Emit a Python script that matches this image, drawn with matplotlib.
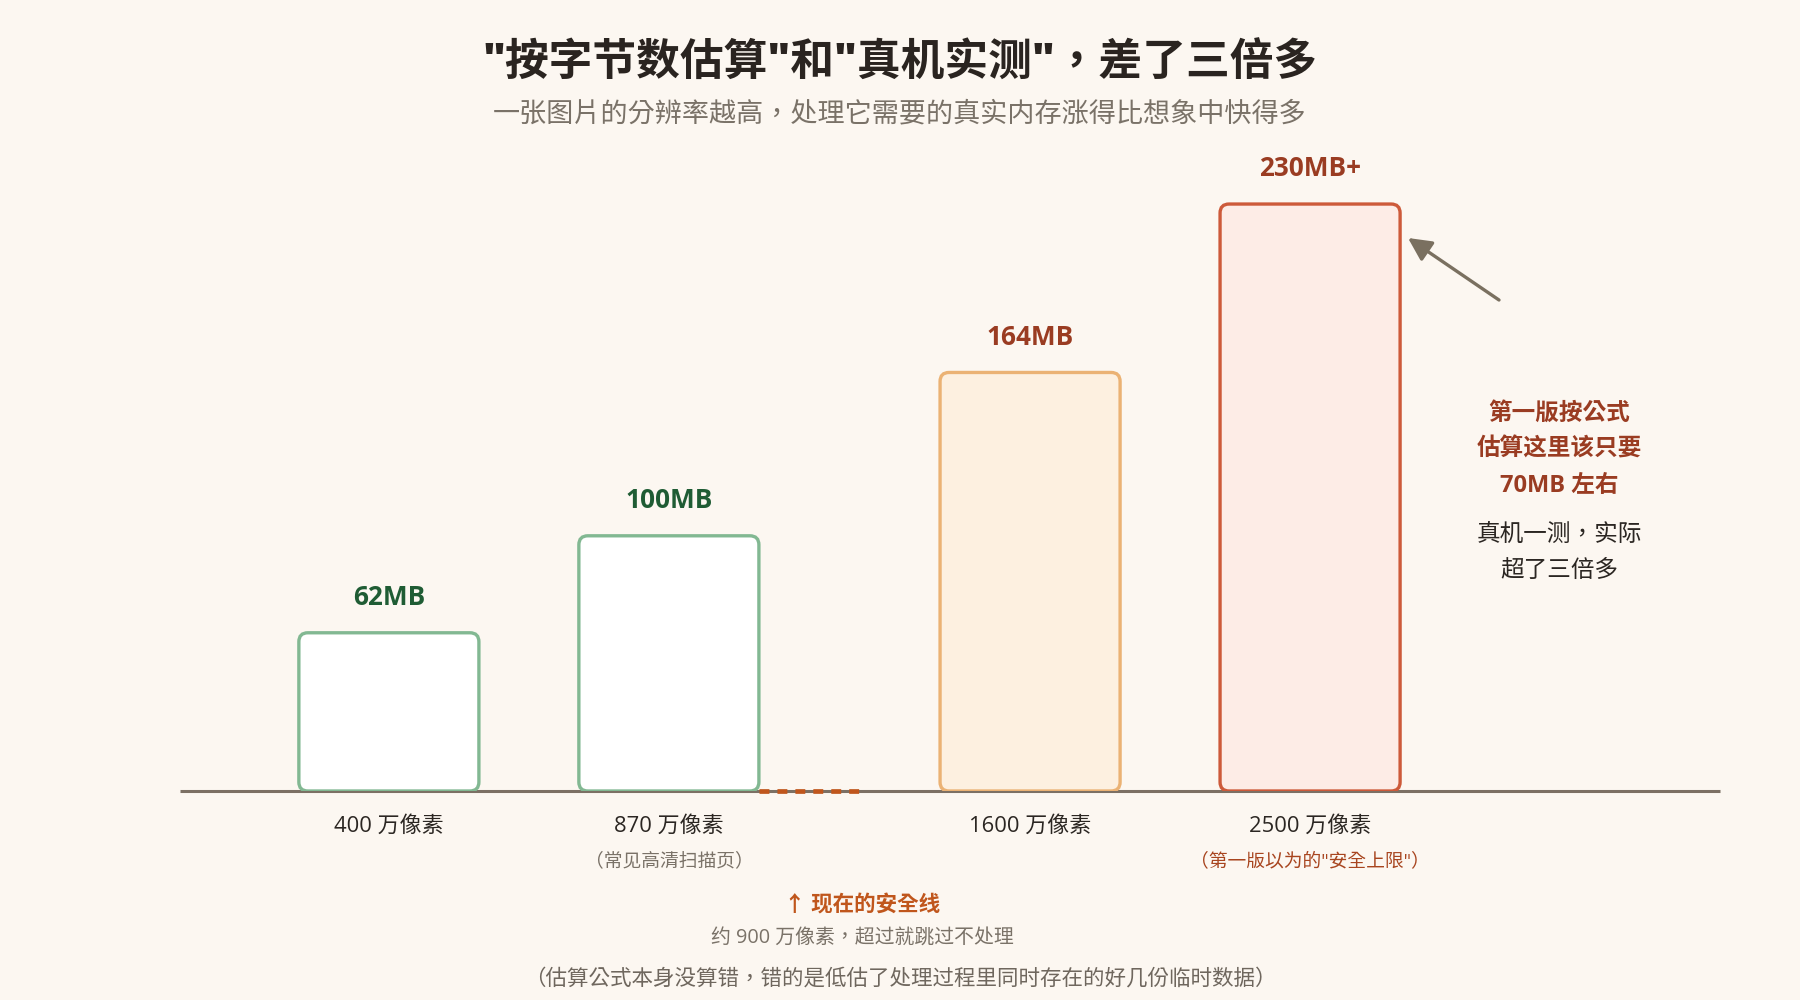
import matplotlib
matplotlib.use("Agg")
import matplotlib.pyplot as plt
from matplotlib.patches import FancyBboxPatch

plt.rcParams['font.family'] = ['Open Sans', 'Noto Sans CJK TC', 'DejaVu Sans']

# ---- data ----
categories = ['400 万像素', '870 万像素', '1600 万像素', '2500 万像素']
notes = ['', '（常见高清扫描页）', '', '（第一版以为的"安全上限"）']
memory_mb = [62, 100, 164, 230]
value_labels = ['62MB', '100MB', '164MB', '230MB+']
positions = [0, 1, 2.29, 3.29]
safety_pos = 1.69

title = '"按字节数估算"和"真机实测"，差了三倍多'
subtitle = '一张图片的分辨率越高，处理它需要的真实内存涨得比想象中快得多'
safety_title = '↑ 现在的安全线'
safety_note = '约 900 万像素，超过就跳过不处理'
footnote = '（估算公式本身没算错，错的是低估了处理过程里同时存在的好几份临时数据）'
anno_bold = ['第一版按公式', '估算这里该只要', '70MB 左右']
anno_normal = ['真机一测，实际', '超了三倍多']

# ---- styles ----
bg = '#fcf7f1'
edge_colors = ['#82b892', '#82b892', '#ebb274', '#cd5a3a']
face_colors = ['#ffffff', '#ffffff', '#fdf0e0', '#fdece6']
label_colors = ['#1f5c34', '#1f5c34', '#9a3c22', '#9a3c22']
note_colors = ['#7a7268', '#7a7268', '#7a7268', '#a8451f']

W, H = 1800, 1000
fig = plt.figure(figsize=(W / 100, H / 100), dpi=100, facecolor=bg)

def fy(px):
    return 1 - px / H

def fx(px):
    return px / W

base_px = 791
ax = fig.add_axes([fx(180), fy(base_px), fx(1720) - fx(180), (base_px - 153) / H])
ax.set_facecolor(bg)
ax.patch.set_alpha(0)
xmin, xmax = -0.746, 4.754
ymax = 250
ax.set_xlim(xmin, xmax)
ax.set_ylim(0, ymax)
ax.axis('off')

# baseline
ax.plot([xmin, xmax], [0, 0], color='#7c7064', lw=2.2, solid_capstyle='butt', zorder=1, clip_on=False)

bw = 0.643
px_per_x = (1720 - 180) / (xmax - xmin)
px_per_y = (base_px - 153) / ymax
r_px = 9
rx = r_px / px_per_x
aspect = (r_px / px_per_y) / rx

for p, v, lab, ec, fc, lc in zip(positions, memory_mb, value_labels, edge_colors, face_colors, label_colors):
    patch = FancyBboxPatch((p - bw / 2, 0), bw, v,
                           boxstyle=f"round,pad=0,rounding_size={rx}",
                           mutation_aspect=aspect,
                           facecolor=fc, edgecolor=ec, lw=2.4, zorder=3)
    ax.add_patch(patch)
    ax.annotate(lab, (p, v), xytext=(0, 25.5), textcoords='offset points',
                ha='center', va='center', fontsize=18.8, fontweight='bold', color=lc, zorder=4)

# safety dashed line
ax.plot([positions[1] + bw / 2, safety_pos], [0, 0], color='#c0561c', lw=3.4,
        dashes=(2.1, 1.7), zorder=2, solid_capstyle='butt', clip_on=False)

# category labels
for p, c, n, nc in zip(positions, categories, notes, note_colors):
    xf = fx(180 + (p - xmin) * px_per_x)
    fig.text(xf, fy(826), c, ha='center', va='center', fontsize=15.8, color='#2b2622')
    if n:
        fig.text(xf, fy(861), n, ha='center', va='center', fontsize=13.5, color=nc)

sx = fx(180 + (safety_pos - xmin) * px_per_x)
fig.text(sx, fy(906), safety_title, ha='center', va='center', fontsize=15.5,
         fontweight='bold', color='#c0561c')
fig.text(sx, fy(939), safety_note, ha='center', va='center', fontsize=14.3, color='#7a7268')
fig.text(0.5, fy(979), footnote, ha='center', va='center', fontsize=15.5, color='#6f675e')

# title
fig.text(0.5, fy(64), title, ha='center', va='center', fontsize=31.5, fontweight='heavy', color='#2a2420')
fig.text(0.5, fy(114), subtitle, ha='center', va='center', fontsize=19.5, color='#7a7268')

# annotation
for i, t in enumerate(anno_bold):
    fig.text(fx(1559), fy(414 + i * 36), t, ha='center', va='center', fontsize=17,
             fontweight='bold', color='#9a3c22')
for i, t in enumerate(anno_normal):
    fig.text(fx(1559), fy(535 + i * 36), t, ha='center', va='center', fontsize=17, color='#2b2622')

fig.add_artist(matplotlib.patches.FancyArrowPatch(
    (fx(1499), fy(300)), (fx(1408), fy(238)), transform=fig.transFigure,
    arrowstyle='-|>,head_length=14,head_width=7', color='#7a7060', lw=2.4,
    shrinkA=0, shrinkB=0))

fig.savefig('out.png', dpi=100, facecolor=bg)
